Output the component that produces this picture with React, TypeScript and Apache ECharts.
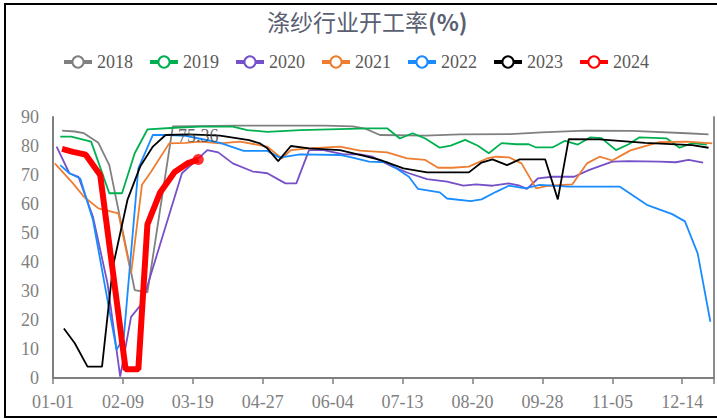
import React, { useEffect, useRef } from "react";
import * as echarts from "echarts";

// x = day of year (0 = 01-01), y = operating rate (%)
const tickLabels = ["01-01", "02-09", "03-19", "04-27", "06-04", "07-13", "08-20", "09-28", "11-05", "12-14"];
const years = ["2018", "2019", "2020", "2021", "2022", "2023", "2024"];
const colors = ["#808080", "#00b050", "#7650c8", "#ed7d31", "#1a8cff", "#000000", "#ff0000"];

const s2018 = [[5,85.3],[12,85],[17,84.4],[25,81.1],[31,73.4],[45,30.3],[52,29.5],[66,86.8],[100,87],[150,87],[165,86.8],[172,86],[180,83.8],[205,83.6],[224,84],[252,84.1],[269,84.7],[293,85.3],[319,85.2],[349,84.4],[361,84]];
const s2019 = [[4,83.2],[10,83.2],[21,81.5],[31,63.7],[38,63.7],[45,77.5],[52,85.7],[67,86.3],[81,86.7],[99,86.7],[107,85.5],[118,84.9],[136,85.5],[174,86.1],[184,86.1],[191,82.6],[198,84.4],[205,82.6],[213,79.4],[219,80.1],[227,82.1],[234,80.1],[240,77.5],[247,81],[255,80.6],[262,80.6],[266,79.5],[275,79.5],[282,81.8],[289,80.5],[296,83],[302,82.7],[310,78.6],[317,80.6],[323,83],[338,82.6],[345,79.4],[352,81],[360,80.5]];
const s2020 = [[2,79.8],[9,70.6],[14,69.4],[22,55.6],[30,32.7],[37,0.5],[43,21.1],[49,25.7],[71,70.6],[85,78.6],[91,77.8],[99,74],[110,71.2],[118,70.6],[128,67.1],[134,67.1],[141,78.6],[149,78.6],[160,77.1],[169,77.1],[176,76.3],[187,72.9],[196,70.6],[206,68.6],[217,67.7],[226,66.3],[233,66.8],[242,66.3],[251,67.1],[257,66.3],[261,65.2],[267,68.8],[275,69.4],[287,69.4],[295,71.7],[308,74.6],[317,74.8],[334,74.6],[343,74.4],[350,75.2],[358,74.3]];
const s2021 = [[1,74],[11,67.1],[17,62.5],[25,58.5],[36,56.8],[43,36.1],[49,66.6],[54,71.1],[64,80.9],[73,81.1],[81,81.5],[92,80.9],[103,81.5],[118,79.8],[126,75.7],[131,78.6],[141,79.2],[158,79.8],[169,78.4],[184,77.8],[195,75.7],[205,75.2],[212,72.5],[220,72.5],[229,72.9],[239,75.7],[244,76.3],[251,76.1],[258,74],[266,65.4],[273,66.3],[286,66.8],[294,74],[301,76.3],[308,75],[318,78.5],[327,80.1],[334,81.3],[349,81.5],[363,80.9]];
const s2022 = [[4,73.4],[9,70.6],[15,68.8],[22,54.5],[35,9.7],[39,14.2],[47,72.3],[55,83.8],[64,83.8],[73,83.5],[81,82.5],[92,81.1],[105,78.3],[118,78.3],[125,76],[136,77.1],[158,76.9],[165,76],[174,74.6],[184,74.4],[196,69.4],[201,65.2],[213,64],[217,61.9],[230,61],[236,61.6],[244,64.2],[251,66.3],[260,65.4],[268,66.6],[284,66],[312,66],[327,59.7],[341,56.5],[348,54],[355,43],[362,19.4]];
const s2023 = [[6,17.1],[12,12],[19,3.9],[27,3.9],[33,38.4],[41,61.4],[48,72.9],[55,79.8],[62,83.8],[75,84],[92,83.6],[108,82],[114,80.9],[118,79.2],[124,74.8],[131,80],[141,79.2],[158,78.6],[173,76.3],[180,75.2],[193,72.3],[206,70.9],[229,70.9],[236,74.3],[242,75.4],[250,73.4],[257,75.4],[271,75.4],[278,61.6],[284,82.4],[301,82.3],[326,81.1],[352,80.3],[361,79.4]];
const s2024 = [[5,79],[11,78],[18,77],[26,70],[40,3],[47,3],[52,53],[59,64],[67,71],[74,74],[80,75.36]];

const seriesData = [s2018, s2019, s2020, s2021, s2022, s2023, s2024];
const lastPoint = s2024[s2024.length - 1];

const SERIF = "Liberation Serif";
const CJK = "Noto Sans CJK SC";
const STEP = 38.5;

export default function App() {
  const ref = useRef<HTMLDivElement>(null);
  useEffect(() => {
    if (!ref.current) return;
    const chart = echarts.init(ref.current, undefined, { renderer: "svg" });
    const lineSeries = years.map((y, i) => ({
      name: y,
      type: "line",
      data: seriesData[i],
      showSymbol: false,
      symbol: "emptyCircle",
      color: colors[i],
      lineStyle: { width: y === "2024" ? 6 : 1.8, color: colors[i] },
      itemStyle: { color: colors[i] },
      z: 2 + i,
    }));
    chart.setOption({
      animation: false,
      backgroundColor: "#ffffff",
      textStyle: { fontFamily: SERIF },
      title: {
        text: "{a|涤纱行业开工率}{b|(%)}",
        left: 262,
        top: 4,
        textStyle: {
          fontWeight: "normal",
          fontFamily: CJK,
          fontSize: 23,
          color: "#5a6072",
          rich: {
            a: { fontFamily: CJK, fontSize: 23, color: "#5a6072", fontWeight: "normal" },
            b: { fontFamily: CJK, fontSize: 23, color: "#5a6072", fontWeight: "bold" },
          },
        },
      },
      legend: {
        data: years,
        left: 57,
        top: 48,
        itemWidth: 28,
        itemHeight: 14,
        itemGap: 15,
        lineStyle: { width: 4 },
        textStyle: { fontFamily: SERIF, fontSize: 18, color: "#595959" },
      },
      grid: { left: 53, right: 2, top: 117, bottom: 41, containLabel: false },
      xAxis: {
        type: "value",
        min: 0,
        max: 364,
        interval: STEP,
        splitLine: { show: false },
        axisLine: { show: true, lineStyle: { color: "#7f7f7f", width: 2 } },
        axisTick: { show: true, length: 6, lineStyle: { color: "#7f7f7f", width: 1.5 } },
        axisLabel: {
          margin: 15,
          fontFamily: SERIF,
          fontSize: 18,
          color: "#808080",
          formatter: (v: number) => {
            const i = Math.round(v / STEP);
            return Math.abs(v - i * STEP) < 0.01 && i < tickLabels.length ? tickLabels[i] : "";
          },
        },
      },
      yAxis: [
        {
          type: "value",
          min: 0,
          max: 90,
          interval: 10,
          splitLine: { show: false },
          axisLine: { show: true, lineStyle: { color: "#7f7f7f", width: 2 } },
          axisTick: { show: false },
          axisLabel: { margin: 14, fontFamily: SERIF, fontSize: 18, color: "#808080" },
        },
        {
          type: "value",
          min: 0,
          max: 90,
          interval: 10,
          position: "right",
          splitLine: { show: false },
          axisLine: { show: true, lineStyle: { color: "#8c8c8c", width: 2 } },
          axisTick: { show: false },
          axisLabel: { show: false },
        },
      ],
      series: [
        ...lineSeries,
        {
          name: "2024",
          type: "scatter",
          data: [lastPoint],
          symbol: "circle",
          symbolSize: 11,
          itemStyle: { color: "#ff0000" },
          z: 10,
          label: {
            show: true,
            position: "top",
            distance: 9,
            formatter: (p: any) => String(p.value[1]),
            fontFamily: SERIF,
            fontSize: 18,
            color: "#404040",
          },
        },
      ],
      graphic: [
        {
          type: "rect",
          shape: { x: 5, y: 4, width: 740, height: 413 },
          style: { fill: "none", stroke: "#000", lineWidth: 2 },
          silent: true,
          z: 100,
        },
      ],
    });
    return () => chart.dispose();
  }, []);
  return <div ref={ref} style={{ position: "fixed", left: 0, top: 0, width: 717, height: 419 }} />;
}
